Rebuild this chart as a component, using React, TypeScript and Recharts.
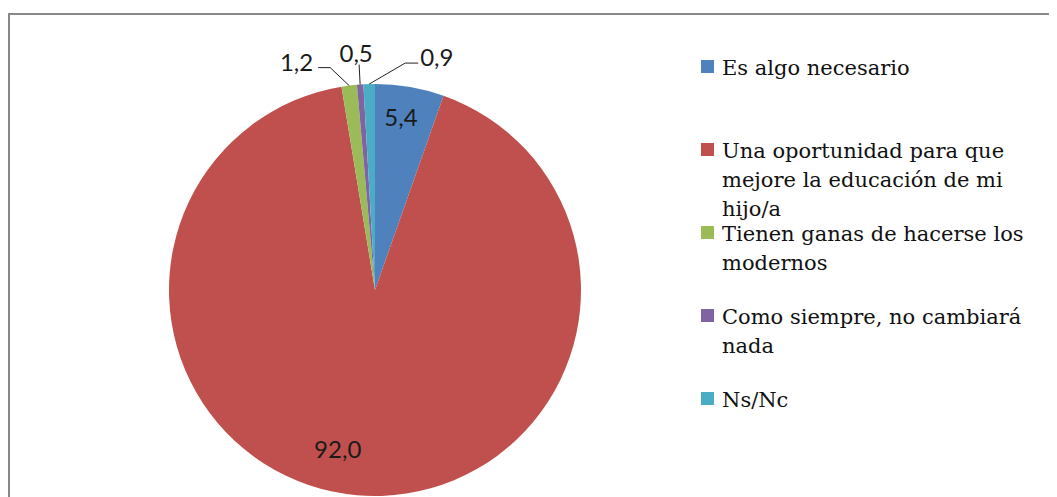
import { PieChart, Pie, Cell, Legend } from 'recharts'

// survey answers, clockwise from 12 o'clock
const categories = [
  'Es algo necesario',
  'Una oportunidad para que mejore la educación de mi hijo/a',
  'Tienen ganas de hacerse los modernos',
  'Como siempre, no cambiará nada',
  'Ns/Nc',
]
const values = [5.4, 92.0, 1.2, 0.5, 0.9]

const colors = ['#4F81BD', '#C0504D', '#9BBB59', '#8064A2', '#4BACC6']

const data = categories.map((name, i) => ({ name, value: values[i] }))

const RADIAN = Math.PI / 180
const fmt = (v: number) => v.toFixed(1).replace('.', ',')

// how each data label sits relative to its slice
const labelLayout: any[] = [
  { inside: true, r: 0.85, da: 1.2 },
  { inside: true, r: 0.79, da: -8.2 },
  { inside: false, elbow: [-19, -18], tail: -12, anchor: 'end', tx: -5, ty: -6 },
  { inside: false, elbow: [-1, -20], tail: 0, anchor: 'middle', tx: -3, ty: -12 },
  { inside: false, elbow: [36, -21], tail: 13, anchor: 'start', tx: 2, ty: -7 },
]

const labelFont = { fontFamily: 'Lato, "Open Sans", sans-serif', fontSize: 24, fill: '#1a1a1a' }

const renderLabel = (props: any) => {
  const { cx, cy, midAngle, outerRadius, index, value } = props
  const cfg = labelLayout[index]
  if (cfg.inside) {
    const a = (midAngle + cfg.da) * RADIAN
    const r = outerRadius * cfg.r
    return (
      <text
        x={cx + r * Math.cos(a)}
        y={cy - r * Math.sin(a)}
        textAnchor="middle"
        dominantBaseline="central"
        {...labelFont}
      >
        {fmt(value)}
      </text>
    )
  }
  const a = midAngle * RADIAN
  const ex = cx + outerRadius * Math.cos(a)
  const ey = cy - outerRadius * Math.sin(a)
  const bx = ex + cfg.elbow[0]
  const by = ey + cfg.elbow[1]
  const tx = bx + cfg.tail
  return (
    <g>
      <polyline points={`${ex},${ey} ${bx},${by} ${tx},${by}`} fill="none" stroke="#222" strokeWidth={1} />
      <text
        x={tx + cfg.tx}
        y={by + cfg.ty}
        textAnchor={cfg.anchor}
        dominantBaseline="central"
        {...labelFont}
      >
        {fmt(value)}
      </text>
    </g>
  )
}

const renderLegend = () => (
  <div style={{ fontFamily: '"DejaVu Serif", serif', fontSize: 21, lineHeight: '29px', color: '#111' }}>
    {categories.map((name, i) => (
      <div key={name} style={{ display: 'flex', height: 83, alignItems: 'flex-start' }}>
        <div style={{ width: 13, height: 13, marginTop: 6, background: colors[i], flex: 'none' }} />
        <div style={{ marginLeft: 8, width: 315 }}>{name}</div>
      </div>
    ))}
  </div>
)

export default function App() {
  return (
    <div style={{ position: 'relative', width: 1049, height: 489 }}>
      <div
        style={{
          position: 'absolute',
          left: 0,
          top: 5,
          width: 1049,
          height: 484,
          borderTop: '2px solid #878787',
          borderLeft: '2px solid #878787',
          boxSizing: 'border-box',
        }}
      />
      <div style={{ position: 'absolute', left: 0, top: 0 }}>
        <PieChart width={1049} height={489} margin={{ top: 0, right: 0, bottom: 0, left: 0 }}>
          <Pie
            data={data}
            dataKey="value"
            nameKey="name"
            cx={367}
            cy={282}
            outerRadius={206}
            startAngle={90}
            endAngle={-270}
            stroke="none"
            label={renderLabel}
            labelLine={false}
            isAnimationActive={false}
          >
            {data.map((d, i) => (
              <Cell key={d.name} fill={colors[i]} />
            ))}
          </Pie>
          <Legend content={renderLegend} wrapperStyle={{ left: 693, top: 46, width: 340, bottom: 'auto' }} />
        </PieChart>
      </div>
    </div>
  )
}
